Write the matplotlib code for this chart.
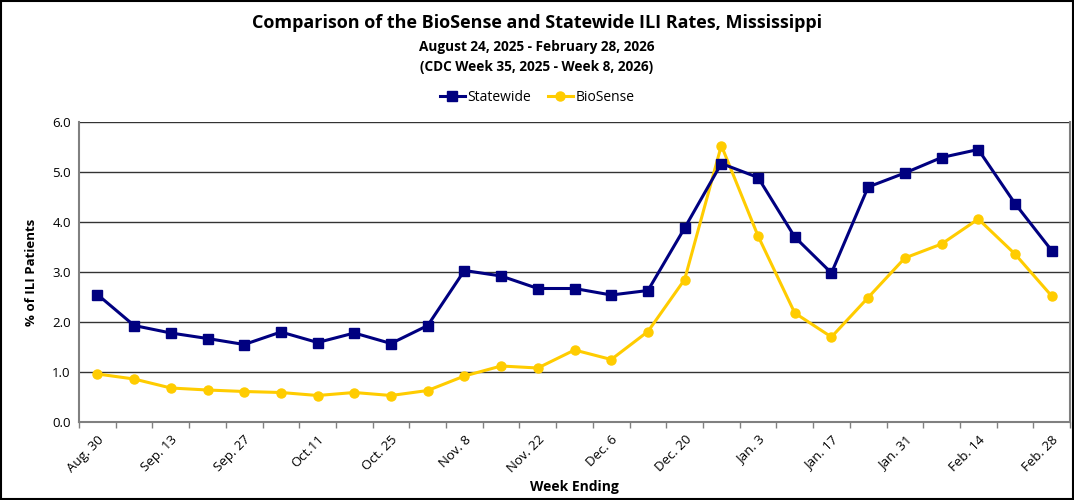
import numpy as np
import matplotlib
matplotlib.use('Agg')
import matplotlib.pyplot as plt
from matplotlib.patches import Rectangle

# ── Данни ──
weeks = ['Aug. 30', 'Sep. 6', 'Sep. 13', 'Sep. 20', 'Sep. 27', 'Oct. 4', 'Oct.11',
         'Oct. 18', 'Oct. 25', 'Nov. 1', 'Nov. 8', 'Nov. 15', 'Nov. 22', 'Nov. 29',
         'Dec. 6', 'Dec. 13', 'Dec. 20', 'Dec. 27', 'Jan. 3', 'Jan. 10', 'Jan. 17',
         'Jan. 24', 'Jan. 31', 'Feb. 7', 'Feb. 14', 'Feb. 21', 'Feb. 28']
statewide = [2.55, 1.93, 1.78, 1.67, 1.55, 1.80, 1.59, 1.78, 1.57, 1.93, 3.03,
             2.92, 2.67, 2.67, 2.54, 2.63, 3.88, 5.17, 4.89, 3.70, 2.98, 4.70,
             4.98, 5.29, 5.45, 4.37, 3.43]
biosense = [0.96, 0.86, 0.68, 0.64, 0.61, 0.59, 0.53, 0.59, 0.53, 0.63, 0.92,
            1.12, 1.08, 1.44, 1.25, 1.81, 2.85, 5.53, 3.72, 2.18, 1.70, 2.49,
            3.28, 3.56, 4.06, 3.36, 2.52]

plt.rcParams['font.family'] = ['Open Sans', 'DejaVu Sans']

fig = plt.figure(figsize=(10.74, 5.0), dpi=100)
ax = fig.add_axes([0.0736, 0.156, 0.9227, 0.600])

x = np.arange(len(weeks))
ax.plot(x, statewide, color='#000080', lw=2.2, marker='s', ms=6.5,
        label='Statewide', zorder=4)
ax.plot(x, biosense, color='#FFCC00', lw=2.2, marker='o', ms=6.5,
        label='BioSense', zorder=3)

ax.set_xlim(-0.5, len(weeks) - 0.5)
ax.set_ylim(0, 6)
ax.set_yticks(np.arange(0, 6.01, 1.0))
ax.set_yticklabels([f'{v:.1f}' for v in np.arange(0, 6.01, 1.0)], fontsize=9.5)
ax.yaxis.grid(True, color='#333333', lw=1.0)
ax.set_axisbelow(True)
ax.tick_params(axis='y', length=0, pad=6)

# подписи през седмица, чертички между категориите
ax.set_xticks(x[::2])
ax.set_xticklabels(weeks[::2], rotation=45, ha='right', rotation_mode='anchor',
                   fontsize=9.5)
ax.set_xticks(np.arange(-0.5, len(weeks), 1.0), minor=True)
ax.tick_params(axis='x', which='major', length=0, pad=8)
ax.tick_params(axis='x', which='minor', length=4, color='#808080', width=1)

for s in ['left', 'bottom', 'right']:
    ax.spines[s].set_color('#808080')
    ax.spines[s].set_linewidth(1.5)
ax.spines['top'].set_visible(False)

ax.set_ylabel('% of ILI Patients', fontsize=9.5, fontweight='bold', labelpad=10)
ax.set_xlabel('Week Ending', fontsize=10, fontweight='bold', labelpad=3)

fig.text(0.5, 0.955, 'Comparison of the BioSense and Statewide ILI Rates, Mississippi',
         ha='center', va='center', fontsize=13, fontweight='bold')
fig.text(0.5, 0.906, 'August 24, 2025 - February 28, 2026',
         ha='center', va='center', fontsize=9.8, fontweight='bold')
fig.text(0.5, 0.866, '(CDC Week 35, 2025 - Week 8, 2026)',
         ha='center', va='center', fontsize=9.8, fontweight='bold')

fig.legend(loc='center', bbox_to_anchor=(0.5, 0.805), ncol=2, frameon=False,
           fontsize=10, handlelength=1.8, handletextpad=0.2,
           columnspacing=1.2)

fig.patches.append(Rectangle((0.001, 0.002), 0.998, 0.996, transform=fig.transFigure,
                             fill=False, edgecolor='black', lw=1.5))

fig.savefig('out.png', dpi=100)
